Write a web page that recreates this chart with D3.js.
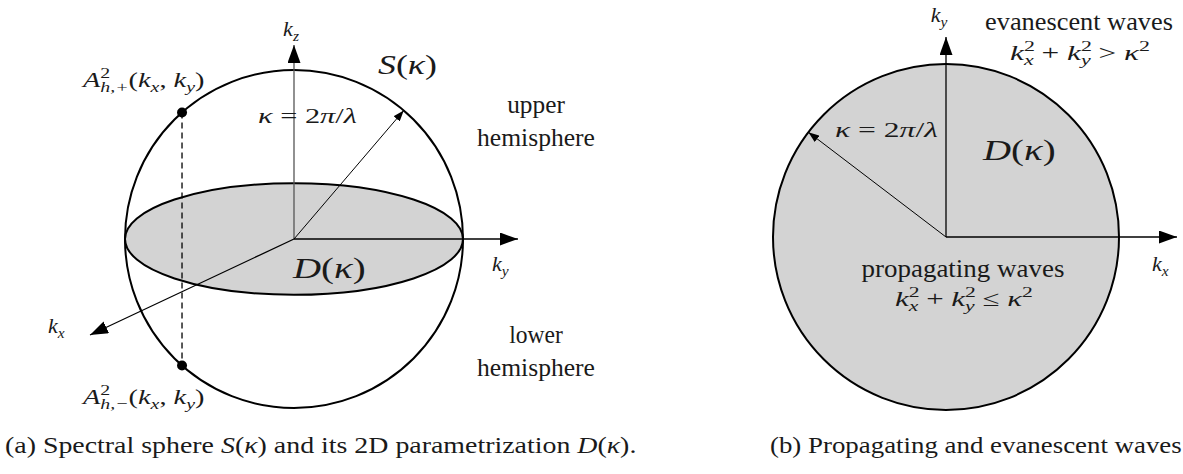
<!DOCTYPE html>
<html>
<head>
<meta charset="utf-8">
<script src="https://cdn.jsdelivr.net/npm/d3@7/dist/d3.min.js"></script>
<style>
  body { margin: 0; background: #fff; }
  svg { display: block; }
</style>
</head>
<body>
<svg id="fig"></svg>
<script>
var width = 1183,
    height = 474,
    serif = "'Liberation Serif', 'DejaVu Serif', serif",
    fill = "#d3d3d3",
    ink = "#1a1a1a";

// geometry in units of kappa (sphere / disc radius = 1)
var kappa = 1,
    equatorAspect = 0.33,
    pointAngles = [131.5, 228.5],          // A_{h,+} and A_{h,-} on the sphere outline (deg)
    radiusAngles = [49.5, 142.7],          // kappa arrows, panel a and b (deg)
    axesA = [[0, 1.148], [1.325, 0], [-1.207, -0.568]],   // kz, ky, kx tips
    axesB = [[1.335, 0], [0, 1.156]];                     // kx, ky tips

// label texts as [string, kind] segments; kind: r roman, i italic, c calligraphic,
// sup (upright), isub (italic subscript), "s" flag = stacked under the previous one
var kz = [["k", "i"], ["z", "isub"]],
    ky = [["k", "i"], ["y", "isub"]],
    kx = [["k", "i"], ["x", "isub"]],
    kappaEq = [["κ", "i"], [" = 2", "r"], ["π", "i"], ["/", "r"], ["λ", "i"]],
    Sk = [["S", "c"], ["(", "r"], ["κ", "i"], [")", "r"]],
    Dk = [["D", "c"], ["(", "r"], ["κ", "i"], [")", "r"]],
    Aplus = [["A", "i"], ["2", "sup"], ["h,+", "isub", "s"], ["(", "r"], ["k", "i"], ["x", "isub"], [", ", "r"], ["k", "i"], ["y", "isub"], [")", "r"]],
    Aminus = [["A", "i"], ["2", "sup"], ["h,−", "isub", "s"], ["(", "r"], ["k", "i"], ["x", "isub"], [", ", "r"], ["k", "i"], ["y", "isub"], [")", "r"]],
    evanIneq = [["k", "i"], ["2", "sup"], ["x", "isub", "s"], [" + ", "r"], ["k", "i"], ["2", "sup"], ["y", "isub", "s"], [" > ", "r"], ["κ", "i"], ["2", "sup"]],
    propIneq = [["k", "i"], ["2", "sup"], ["x", "isub", "s"], [" + ", "r"], ["k", "i"], ["2", "sup"], ["y", "isub", "s"], [" ≤ ", "r"], ["κ", "i"], ["2", "sup"]],
    hemiUpper = [[["upper", "r"]], [["hemisphere", "r"]]],
    hemiLower = [[["lower", "r"]], [["hemisphere", "r"]]],
    evanText = [["evanescent waves", "r"]],
    propText = [["propagating waves", "r"]],
    captionA = [["(a) Spectral sphere ", "r"], ["S", "c"], ["(", "r"], ["κ", "i"], [") and its 2D parametrization ", "r"], ["D", "c"], ["(", "r"], ["κ", "i"], [").", "r"]],
    captionB = [["(b) Propagating and evanescent waves", "r"]];

var svg = d3.select("#fig").attr("width", width).attr("height", height);

var defs = svg.append("defs");
function marker(id, len, wid) {
  defs.append("marker")
      .attr("id", id)
      .attr("markerUnits", "userSpaceOnUse")
      .attr("viewBox", "0 " + (-wid/2) + " " + len + " " + wid)
      .attr("refX", len).attr("refY", 0)
      .attr("markerWidth", len).attr("markerHeight", wid)
      .attr("orient", "auto")
    .append("path")
      .attr("d", "M0," + (-wid/2) + "L" + len + ",0L0," + (wid/2) + "Z")
      .attr("fill", "#000");
}
marker("big", 18, 13);
marker("small", 11, 8);

// draws a label; if w is given the label is stretched horizontally to that width
function mathText(g, x, y, segs, size, anchor, w) {
  var t = g.append("text")
      .attr("x", x).attr("y", y)
      .attr("font-family", serif)
      .attr("font-size", size)
      .attr("text-anchor", anchor || "start")
      .attr("fill", ink);
  var cur = 0, lastW = 0;
  segs.forEach(function(s) {
    var str = s[0], kind = s[1], off = 0, fs = size, it = false;
    if (kind === "i" || kind === "c") it = true;
    if (kind === "sup") { off = -0.42*size; fs = 0.7*size; }
    if (kind === "isub") { off = 0.24*size; fs = 0.7*size; it = true; }
    var ts = t.append("tspan")
        .attr("dy", off - cur)
        .attr("font-size", fs)
        .attr("font-style", it ? "italic" : "normal")
        .text(str);
    if (s[2] === "s") ts.attr("dx", -lastW);
    lastW = ts.node().getComputedTextLength();
    cur = off;
  });
  if (w) {
    var bw = t.node().getBBox().width;
    t.attr("transform", "translate(" + x + "," + y + ") scale(" + (w/bw) + ",1) translate(" + (-x) + "," + (-y) + ")");
  }
  return t;
}

function deg(a) { return a*Math.PI/180; }

// ---------- panel (a): spectral sphere ----------
var ra = 169,
    xa = d3.scaleLinear().domain([-kappa, kappa]).range([294 - ra, 294 + ra]),
    ya = d3.scaleLinear().domain([-kappa, kappa]).range([239 + ra, 239 - ra]);

var gA = svg.append("g");

gA.append("ellipse")
    .attr("cx", xa(0)).attr("cy", ya(0))
    .attr("rx", xa(kappa) - xa(0))
    .attr("ry", (xa(kappa) - xa(0))*equatorAspect)
    .attr("fill", fill).attr("stroke", "#000").attr("stroke-width", 2);

gA.append("circle")
    .attr("cx", xa(0)).attr("cy", ya(0)).attr("r", xa(kappa) - xa(0))
    .attr("fill", "none").attr("stroke", "#000").attr("stroke-width", 2);

gA.selectAll("line.axis")
  .data(axesA)
  .enter().append("line")
    .attr("class", "axis")
    .attr("x1", xa(0)).attr("y1", ya(0))
    .attr("x2", function(d) { return xa(d[0]); })
    .attr("y2", function(d) { return ya(d[1]); })
    .attr("stroke", function(d, i) { return i === 0 ? "#555" : "#000"; })
    .attr("stroke-width", 1.3)
    .attr("marker-end", "url(#big)");

gA.append("line")
    .attr("x1", xa(0)).attr("y1", ya(0))
    .attr("x2", xa(kappa*Math.cos(deg(radiusAngles[0]))))
    .attr("y2", ya(kappa*Math.sin(deg(radiusAngles[0]))))
    .attr("stroke", "#000").attr("stroke-width", 1)
    .attr("marker-end", "url(#small)");

var pts = pointAngles.map(function(a) { return [kappa*Math.cos(deg(a)), kappa*Math.sin(deg(a))]; });

gA.append("line")
    .attr("x1", xa(pts[0][0])).attr("y1", ya(pts[0][1]))
    .attr("x2", xa(pts[1][0])).attr("y2", ya(pts[1][1]))
    .attr("stroke", "#000").attr("stroke-width", 1.3)
    .attr("stroke-dasharray", "6,4");

gA.selectAll("circle.pt")
  .data(pts)
  .enter().append("circle")
    .attr("class", "pt")
    .attr("cx", function(d) { return xa(d[0]); })
    .attr("cy", function(d) { return ya(d[1]); })
    .attr("r", 5).attr("fill", "#000");

mathText(gA, 291, 36, kz, 22, "middle");
mathText(gA, 83, 87, Aplus, 22, "start", 124);
mathText(gA, 258, 123, kappaEq, 22, "start", 99);
mathText(gA, 378, 74, Sk, 28, "start", 59);
mathText(gA, 293, 278, Dk, 29, "start", 74);
mathText(gA, 492, 271, ky, 22);
mathText(gA, 48, 333, kx, 22);
mathText(gA, 83, 404, Aminus, 22, "start", 124);

hemiUpper.forEach(function(d, i) {
  mathText(gA, 536, 113 + i*33, d, 26, "middle", i ? 118 : 58);
});
hemiLower.forEach(function(d, i) {
  mathText(gA, 536, 343 + i*33, d, 26, "middle", i ? 118 : 54);
});

mathText(gA, 5, 453, captionA, 23, "start", 632);

// ---------- panel (b): propagating / evanescent ----------
var rb = 173,
    xb = d3.scaleLinear().domain([-kappa, kappa]).range([946 - rb, 946 + rb]),
    yb = d3.scaleLinear().domain([-kappa, kappa]).range([237 + rb, 237 - rb]);

var gB = svg.append("g");

gB.append("circle")
    .attr("cx", xb(0)).attr("cy", yb(0)).attr("r", xb(kappa) - xb(0))
    .attr("fill", fill).attr("stroke", "#000").attr("stroke-width", 2);

gB.selectAll("line.axis")
  .data(axesB)
  .enter().append("line")
    .attr("class", "axis")
    .attr("x1", xb(0)).attr("y1", yb(0))
    .attr("x2", function(d) { return xb(d[0]); })
    .attr("y2", function(d) { return yb(d[1]); })
    .attr("stroke", "#000").attr("stroke-width", 1.3)
    .attr("marker-end", "url(#big)");

gB.append("line")
    .attr("x1", xb(0)).attr("y1", yb(0))
    .attr("x2", xb(kappa*Math.cos(deg(radiusAngles[1]))))
    .attr("y2", yb(kappa*Math.sin(deg(radiusAngles[1]))))
    .attr("stroke", "#000").attr("stroke-width", 1)
    .attr("marker-end", "url(#small)");

mathText(gB, 939, 22, ky, 22, "middle");
mathText(gB, 1079, 30, evanText, 26, "middle", 188);
mathText(gB, 1080, 60, evanIneq, 22, "middle", 140);
mathText(gB, 835, 137, kappaEq, 22, "start", 103);
mathText(gB, 983, 160, Dk, 29, "start", 74);
mathText(gB, 1152, 271, kx, 22);
mathText(gB, 963, 277, propText, 26, "middle", 203);
mathText(gB, 964, 306, propIneq, 22, "middle", 138);

mathText(gB, 770, 453, captionB, 23, "start", 412);
</script>
</body>
</html>
